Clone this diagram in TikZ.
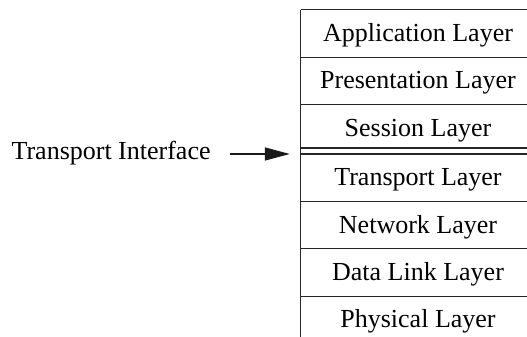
\documentclass[tikz,border=0pt]{standalone}
\usepackage{fontspec}
\setmainfont{Liberation Serif}
\usetikzlibrary{positioning,arrows.meta}

\begin{document}
\begin{tikzpicture}[x=1pt,y=-1pt]
    \tikzstyle{every node}+=[inner sep=0pt, font=\fontsize{26}{30}\selectfont]
    \tikzstyle{layer}=[minimum width=234pt, minimum height=47pt, text height=31.5pt, text depth=15.5pt]
    \tikzstyle{rule}=[line width=1.3pt, black!85]
    \useasboundingbox (0,0) rectangle (527,337);
    \clip (0,0) rectangle (527,337);
    \node [layer] (app) at (418,33.5) {Application Layer};
    \node [layer, below=0pt of app] (pres) {Presentation Layer};
    \node [layer, below=0pt of pres, minimum height=43pt, text depth=11.5pt] (sess) {Session Layer};
    \node [layer, below=6pt of sess] (trans) {Transport Layer};
    \node [layer, below=0pt of trans] (net) {Network Layer};
    \node [layer, below=0pt of net] (link) {Data Link Layer};
    \node [layer, below=0pt of link] (phys) {Physical Layer};
    \draw [rule] (app.north west) -- (phys.south west);
    \foreach \n in {app,pres,sess,trans,net,link,phys}
        \draw [rule] (\n.north west) -- (\n.north east);
    \draw [rule] (sess.south west) -- (sess.south east);
    \node [anchor=east, text height=18pt, text depth=8pt] (ti) at ([xshift=-90pt]trans.north west) {Transport Interface};
    \draw [line width=1.4pt, black!90, -{Triangle[length=25pt,width=13pt]}, shorten <=19pt, shorten >=11pt] (ti.east) -- (trans.north west);
\end{tikzpicture}
\end{document}
